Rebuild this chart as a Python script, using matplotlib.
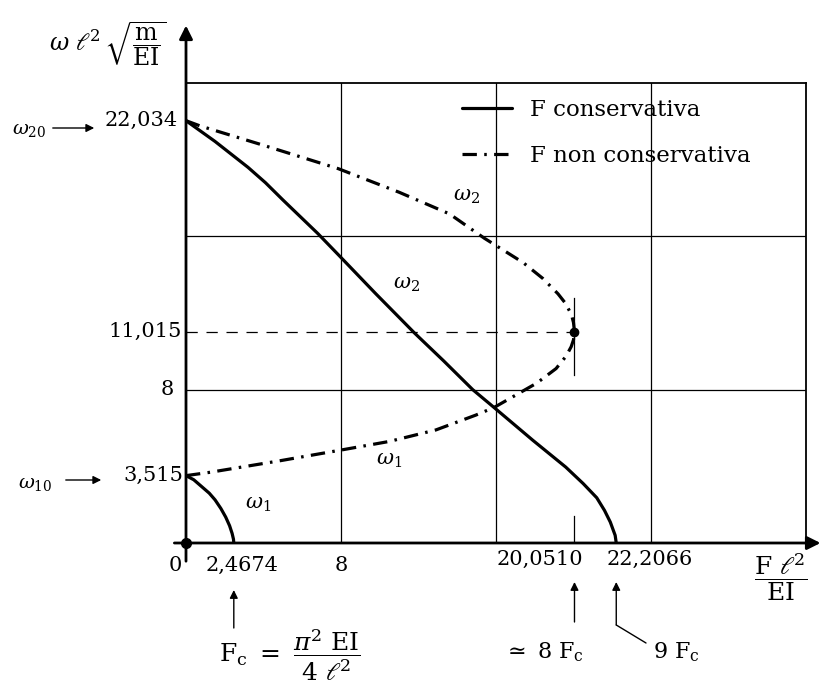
import matplotlib
matplotlib.use("Agg")
import matplotlib.pyplot as plt

plt.rcParams["font.family"] = ["DejaVu Serif"]
plt.rcParams["mathtext.fontset"] = "dejavuserif"

# carichi caratteristici (F l^2 / EI) e frequenze (omega l^2 sqrt(m/EI))
F_c = 2.4674      # pi^2/4, carico critico euleriano della mensola
F_cr = 20.0510    # carico di flutter (forza non conservativa)
F_2c = 22.2066    # annullamento di omega_2, forza conservativa
W_10 = 3.515
W_20 = 22.034
W_cr = 11.015

# forza conservativa
cons_w1_F = [0, 0.4, 0.8, 1.2, 1.5, 1.8, 2.05, 2.25, 2.38, 2.45, F_c]
cons_w1 = [W_10, 3.3, 2.95, 2.6, 2.25, 1.8, 1.35, 0.9, 0.5, 0.2, 0]
cons_w2_F = [0, 1.5, 3.2, 4.1, 5.0, 6.8, 7.9, 9.8, 11.8, 13.3, 14.8, 15.9,
             17.9, 19.6, 20.5, 21.2, 21.6, 21.9, 22.15, F_2c]
cons_w2 = [W_20, 20.95, 19.6, 18.8, 17.9, 16.15, 15.0, 13.0, 10.95, 9.5, 8.0, 7.07,
           5.36, 3.96, 3.1, 2.36, 1.7, 1.09, 0.4, 0]

# forza non conservativa (follower)
nc_w1_F = [0, 1.25, 4.9, 8.0, 10.5, 12.9, 14.95, 15.9, 18.1, 19.1, 19.62, 19.88,
           20.0, F_cr]
nc_w1 = [W_10, 3.69, 4.3, 4.85, 5.3, 5.9, 6.67, 7.07, 8.34, 9.1, 9.75, 10.24,
         10.6, W_cr]
nc_w2_F = [0, 0.73, 4.0, 7.86, 11.0, 13.6, 15.4, 17.4, 18.42, 19.2, 19.59, 19.9,
           20.0, F_cr]
nc_w2 = [W_20, 21.76, 20.75, 19.53, 18.3, 17.17, 15.9, 14.63, 13.8, 13.0, 12.5, 11.9,
         11.5, W_cr]

GRID_X = [8, 16, 24]
GRID_Y = [8, 16]

fig = plt.figure(figsize=(8.22, 6.90), dpi=100)
ax = fig.add_axes([186 / 822, 147 / 690, 620 / 822, 460 / 690])
ax.set_xlim(0, 32)
ax.set_ylim(0, 24)
ax.set_xticks([])
ax.set_yticks([])
ax.spines["left"].set_visible(False)
ax.spines["bottom"].set_visible(False)
for s in ("top", "right"):
    ax.spines[s].set_linewidth(1.3)

for gx in GRID_X:
    ax.axvline(gx, color="black", lw=0.9, zorder=1)
for gy in GRID_Y:
    ax.axhline(gy, color="black", lw=0.9, zorder=1)

# assi con freccia
ax.annotate("", xy=(32.75, 0), xytext=(-0.6, 0), annotation_clip=False,
            arrowprops=dict(arrowstyle="-|>", lw=2.0, color="black", mutation_scale=20,
                            shrinkA=0, shrinkB=0))
ax.annotate("", xy=(0, 27.0), xytext=(0, -0.95), annotation_clip=False,
            arrowprops=dict(arrowstyle="-|>", lw=2.0, color="black", mutation_scale=20,
                            shrinkA=0, shrinkB=0))

dashdot = (0, (4.5, 2.3, 0.8, 2.3))
ax.plot(cons_w1_F, cons_w1, color="black", lw=2.3, solid_capstyle="round",
        solid_joinstyle="round", zorder=4, label="F conservativa")
ax.plot(cons_w2_F, cons_w2, color="black", lw=2.3, solid_capstyle="round",
        solid_joinstyle="round", zorder=4)
ax.plot(nc_w1_F, nc_w1, color="black", lw=2.3, ls=dashdot, zorder=4,
        label="F non conservativa")
ax.plot(nc_w2_F, nc_w2, color="black", lw=2.3, ls=dashdot, zorder=4)

# punto di flutter
ax.plot([0, F_cr], [W_cr, W_cr], color="black", lw=0.9, ls=(0, (9, 7)), zorder=2)
ax.plot([F_cr, F_cr], [8.75, 12.8], color="black", lw=0.9, zorder=3)
ax.plot([F_cr, F_cr], [0, 1.4], color="black", lw=0.9, zorder=3)
ax.plot([F_cr], [W_cr], "o", color="black", ms=6, zorder=5)
ax.plot([0], [0], "o", color="black", ms=7, zorder=5, clip_on=False)

# etichette delle curve
ax.text(3.7, 2.0, r"$\omega_1$", fontsize=15, ha="center", va="center")
ax.text(10.5, 4.3, r"$\omega_1$", fontsize=15, ha="center", va="center")
ax.text(11.4, 13.5, r"$\omega_2$", fontsize=15, ha="center", va="center")
ax.text(14.5, 18.1, r"$\omega_2$", fontsize=15, ha="center", va="center")

leg = ax.legend(loc="upper left", bbox_to_anchor=(0.445, 0.966), frameon=False,
                fontsize=16.5, handlelength=2.2, handletextpad=0.75, labelspacing=1.05,
                borderpad=0, borderaxespad=0)

# valori sull'asse delle ordinate
ytxt = dict(fontsize=15, ha="right", va="center", clip_on=False)
ax.text(-0.45, W_20, "22,034", **ytxt)
ax.text(-0.2, W_cr, "11,015", **ytxt)
ax.text(-0.65, 8, "8", **ytxt)
ax.text(-0.15, W_10, "3,515", **ytxt)

# valori sull'asse delle ascisse
xtxt = dict(fontsize=15, va="center", clip_on=False)
ax.text(-0.55, -1.15, "0", ha="center", **xtxt)
ax.text(F_c + 0.4, -1.15, "2,4674", ha="center", **xtxt)
ax.text(8, -1.15, "8", ha="center", **xtxt)
ax.text(F_cr + 0.45, -0.85, "20,0510", ha="right", **xtxt)
ax.text(F_2c - 0.5, -0.85, "22,2066", ha="left", **xtxt)

# etichette degli assi
fig.text(108 / 822, 1 - 44 / 690, r"$\omega\ \ell^2\,\sqrt{\dfrac{\mathrm{m}}{\mathrm{EI}}}$",
         fontsize=17, ha="center", va="center")
fig.text(781 / 822, 1 - 577 / 690, r"$\dfrac{\mathrm{F}\ \ell^2}{\mathrm{EI}}$",
         fontsize=18, ha="center", va="center")

# frecce a sinistra
fig.text(29 / 822, 1 - 130 / 690, r"$\omega_{20}$", fontsize=14, ha="center", va="center")
ax.annotate("", xy=(97, 562), xytext=(50, 562), xycoords="figure pixels",
            textcoords="figure pixels",
            arrowprops=dict(arrowstyle="-|>", lw=1.0, color="black", mutation_scale=12))
fig.text(35 / 822, 1 - 484 / 690, r"$\omega_{10}$", fontsize=14, ha="center", va="center")
ax.annotate("", xy=(104, 210), xytext=(63, 210), xycoords="figure pixels",
            textcoords="figure pixels",
            arrowprops=dict(arrowstyle="-|>", lw=1.0, color="black", mutation_scale=12))

# frecce e didascalie sotto l'asse delle ascisse
arr = dict(arrowstyle="-|>", lw=1.0, color="black", mutation_scale=12, shrinkA=0, shrinkB=0)
ax.annotate("", xy=(F_c, 100), xytext=(F_c, 62), xycoords=("data", "figure pixels"),
            textcoords=("data", "figure pixels"), arrowprops=arr, annotation_clip=False)
fig.text(290 / 822, 1 - 655 / 690,
         r"$\mathrm{F_c}\ =\ \dfrac{\pi^2\ \mathrm{EI}}{4\ \ell^2}$",
         fontsize=18, ha="center", va="center")

ax.annotate("", xy=(F_cr, 108), xytext=(F_cr, 68), xycoords=("data", "figure pixels"),
            textcoords=("data", "figure pixels"), arrowprops=arr, annotation_clip=False)
fig.text(543 / 822, 1 - 652 / 690, r"$\simeq\ 8\ \mathrm{F_c}$",
         fontsize=16, ha="center", va="center")

ax.annotate("", xy=(F_2c, 108), xytext=(F_2c, 65), xycoords=("data", "figure pixels"),
            textcoords=("data", "figure pixels"), arrowprops=arr, annotation_clip=False)
ax.annotate("", xy=(F_2c, 65), xytext=(646, 47), xycoords=("data", "figure pixels"),
            textcoords="figure pixels",
            arrowprops=dict(arrowstyle="-", lw=1.0, color="black", shrinkA=0, shrinkB=0),
            annotation_clip=False)
fig.text(676 / 822, 1 - 652 / 690, r"$9\ \mathrm{F_c}$",
         fontsize=16, ha="center", va="center")

fig.savefig("out.png", dpi=100)
